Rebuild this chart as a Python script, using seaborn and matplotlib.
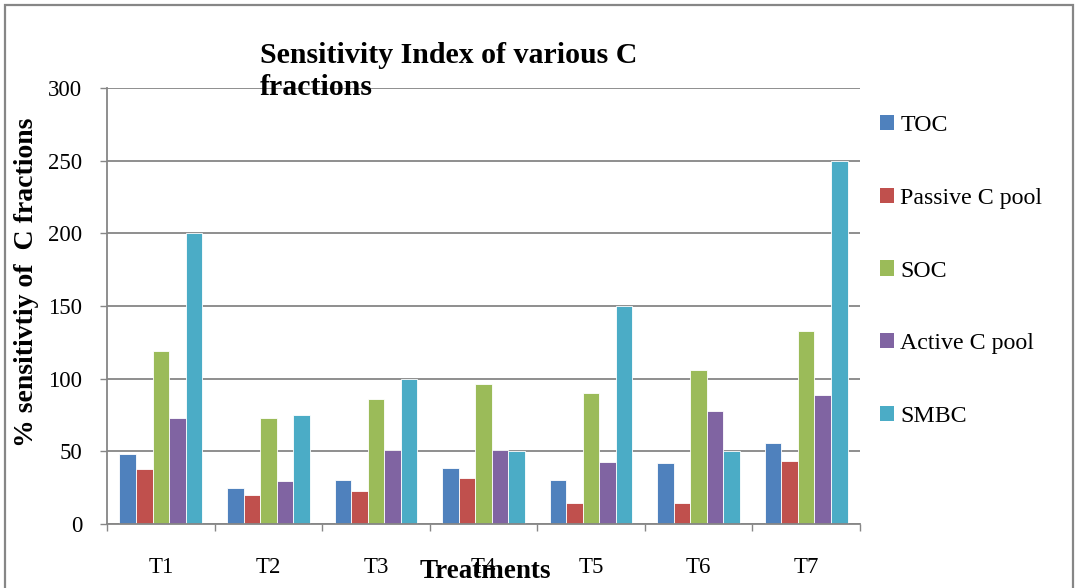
import matplotlib
matplotlib.use("Agg")
import matplotlib.pyplot as plt
import matplotlib.patches as mpatches
from matplotlib.ticker import FixedLocator, NullFormatter
import seaborn as sns
import pandas as pd

treatments = ["T1", "T2", "T3", "T4", "T5", "T6", "T7"]
series_names = ["TOC", "Passive C pool", "SOC", "Active C pool", "SMBC"]
toc = [48, 24.5, 30, 38.5, 30, 42, 55.5]
passive = [38, 20, 22.5, 31.5, 14.5, 14.5, 43.5]
soc = [119, 73, 86, 96, 90, 106, 133]
active = [73, 29.5, 51, 51, 43, 78, 89]
smbc = [200, 75, 100, 50, 150, 50, 250]
colors = ["#4F81BD", "#C0504D", "#9BBB59", "#8064A2", "#4BACC6"]

values = [toc, passive, soc, active, smbc]
rows = []
for name, vals in zip(series_names, values):
    for t, v in zip(treatments, vals):
        rows.append({"Treatment": t, "Series": name, "Value": v})
df = pd.DataFrame(rows)

sns.set_theme(style="white")
plt.rcParams["font.family"] = ["Liberation Serif", "DejaVu Serif"]
plt.rcParams["text.color"] = "black"
plt.rcParams["xtick.color"] = "black"
plt.rcParams["ytick.color"] = "black"
plt.rcParams["axes.labelcolor"] = "black"

fig = plt.figure(figsize=(10.78, 5.88), dpi=100)
ax = fig.add_axes([107/1078, 1-524/588, (860-107)/1078, (524-88)/588])

grid_c = "#868686"
ax.set_axisbelow(True)
ax.yaxis.grid(True, color=grid_c, linewidth=1.3)
ax.xaxis.grid(False)

sns.barplot(data=df, x="Treatment", y="Value", hue="Series",
            order=treatments, hue_order=series_names, palette=colors,
            saturation=1, width=0.77, gap=0, edgecolor="white", linewidth=0.6,
            legend=False, ax=ax)

ax.set_ylim(0, 300)
ax.set_xlim(-0.5, 6.5)
ax.set_yticks([0, 50, 100, 150, 200, 250, 300])
ax.tick_params(axis="y", which="major", length=5, width=1, color=grid_c,
               labelcolor="black", direction="out", left=True, pad=13,
               labelsize=16.5)

# major ticks at category boundaries, labels at centers
ax.xaxis.set_major_locator(FixedLocator([i - 0.5 for i in range(8)]))
ax.xaxis.set_major_formatter(NullFormatter())
ax.xaxis.set_minor_locator(FixedLocator(list(range(7))))
ax.set_xticklabels(treatments, minor=True)
ax.tick_params(axis="x", which="major", length=5, width=1, color=grid_c,
               direction="out", bottom=True)
ax.tick_params(axis="x", which="minor", length=0, pad=24, labelsize=16.5,
               labelcolor="black")

for s in ["top", "right"]:
    ax.spines[s].set_visible(False)
for s in ["left", "bottom"]:
    ax.spines[s].set_color(grid_c)
    ax.spines[s].set_linewidth(1.3)

ax.set_xlabel("")
ax.set_ylabel("")

fig.text(260/1078, 1-42/588, "Sensitivity Index of various C\nfractions",
         ha="left", va="top", fontsize=21.5, fontweight="bold",
         linespacing=1.25, color="black")
fig.text(27/1078, 1-282/588, "% sensitivtiy of  C fractions", rotation=90,
         ha="center", va="center", fontsize=20, fontweight="bold",
         color="black")
fig.text(485/1078, 1-572/588, "Treatments", ha="center", va="center",
         fontsize=19.5, fontweight="bold", color="black")

handles = [mpatches.Patch(facecolor=c, edgecolor="none") for c in colors]
fig.legend(handles, series_names, loc="center left",
           bbox_to_anchor=(880/1078, 1-271/588), frameon=False,
           fontsize=17.2, labelspacing=2.16, handlelength=0.6,
           handleheight=0.6, handletextpad=0.25, borderpad=0,
           borderaxespad=0, labelcolor="black")

border = mpatches.Rectangle((5/1078, -0.02), (1073-5)/1078, 1-5/588 + 0.02,
                            transform=fig.transFigure, fill=False,
                            edgecolor=grid_c, linewidth=1.6)
fig.add_artist(border)

fig.savefig("out.png", dpi=100)
